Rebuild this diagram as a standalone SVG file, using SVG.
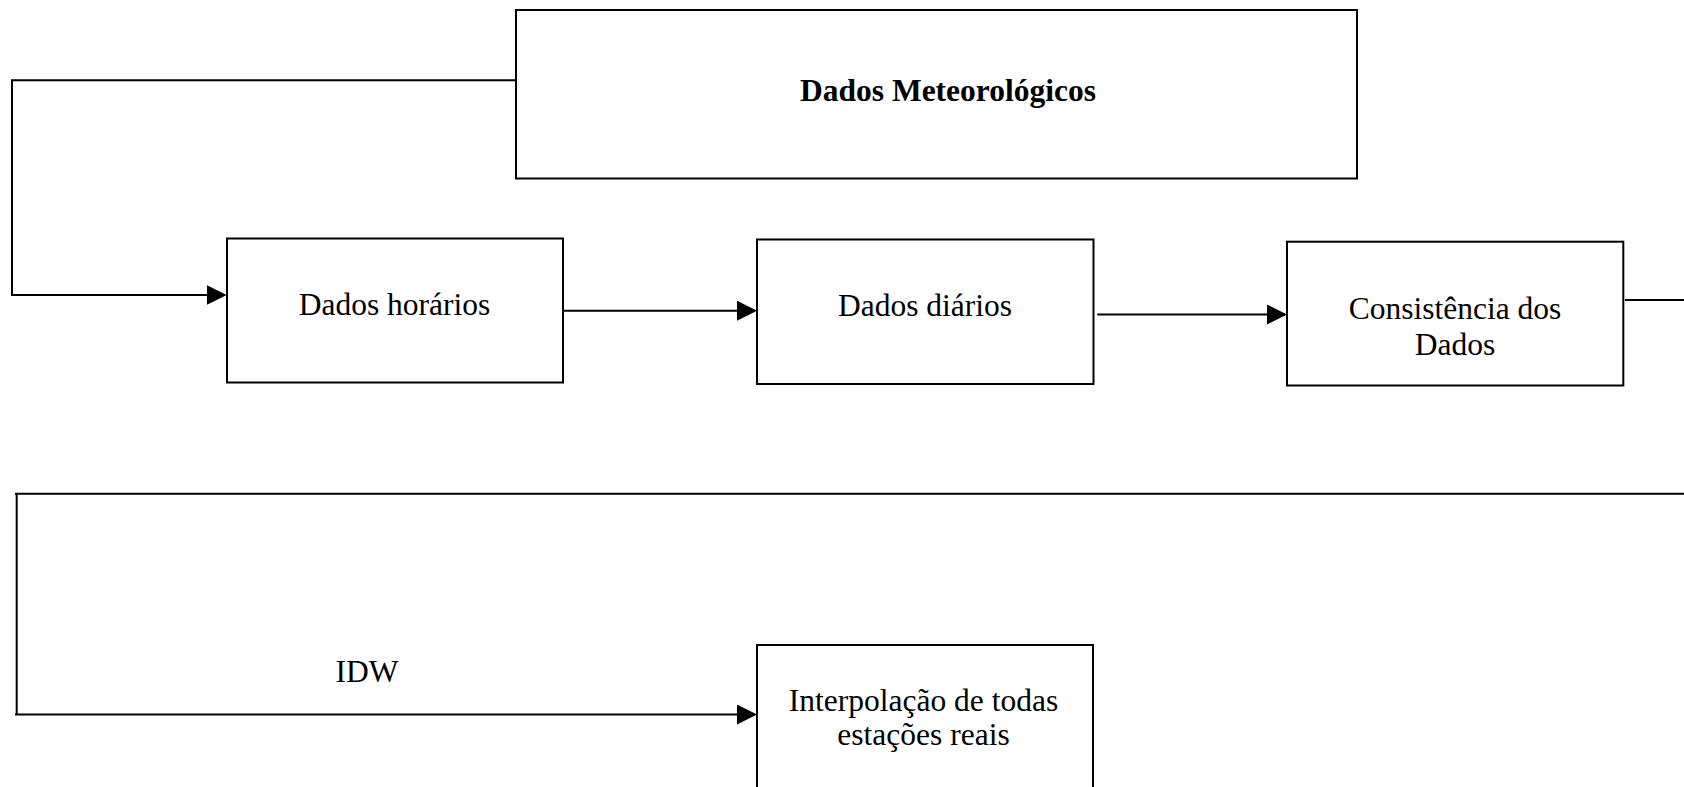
<svg xmlns="http://www.w3.org/2000/svg" width="1684" height="787" viewBox="0 0 1684 787">
  <style>
    .box { fill: #ffffff; stroke: #000000; stroke-width: 2; }
    .conn { fill: none; stroke: #000000; stroke-width: 2; }
    .lbl { font-family: "Liberation Serif", "Times New Roman", serif; font-size: 31.5px; fill: #000000; text-anchor: middle; }
    .bold { font-weight: bold; }
  </style>
  <defs>
    <marker id="arrow" markerUnits="userSpaceOnUse" markerWidth="20" markerHeight="20" refX="18" refY="10" orient="auto">
      <path d="M0,0 L20,10 L0,20 Z" fill="#000000"/>
    </marker>
  </defs>
  <rect x="0" y="0" width="1684" height="787" fill="#ffffff"/>

  <g id="connectors">
    <path class="conn" d="M516,80.3 H12 V295 H224.7" marker-end="url(#arrow)"/>
    <path class="conn" d="M563,310.7 H755" marker-end="url(#arrow)"/>
    <path class="conn" d="M1097.3,314.5 H1285" marker-end="url(#arrow)"/>
    <path class="conn" d="M1625,300 H1684"/>
    <path class="conn" d="M1684,493.7 H15 M16.7,493.7 V714.5 M15,714.5 H755" marker-end="url(#arrow)"/>
    <text class="lbl" x="367" y="682">IDW</text>
  </g>

  <g id="node-dados-meteorologicos">
    <rect class="box" x="516" y="10" width="841" height="168.5"/>
    <text class="lbl bold" x="948" y="101">Dados Meteorológicos</text>
  </g>

  <g id="node-dados-horarios">
    <rect class="box" x="227" y="238.5" width="336" height="144"/>
    <text class="lbl" x="394.5" y="315">Dados horários</text>
  </g>

  <g id="node-dados-diarios">
    <rect class="box" x="757" y="239.5" width="336.5" height="144.5"/>
    <text class="lbl" x="925" y="316">Dados diários</text>
  </g>

  <g id="node-consistencia">
    <rect class="box" x="1287" y="241.7" width="336.3" height="143.8"/>
    <text class="lbl" x="1455" y="319">Consistência dos</text>
    <text class="lbl" x="1455" y="355">Dados</text>
  </g>

  <g id="node-interpolacao">
    <rect class="box" x="757" y="645" width="336" height="160"/>
    <text class="lbl" x="923.5" y="710.5">Interpolação de todas</text>
    <text class="lbl" x="923.5" y="745">estações reais</text>
  </g>
</svg>
